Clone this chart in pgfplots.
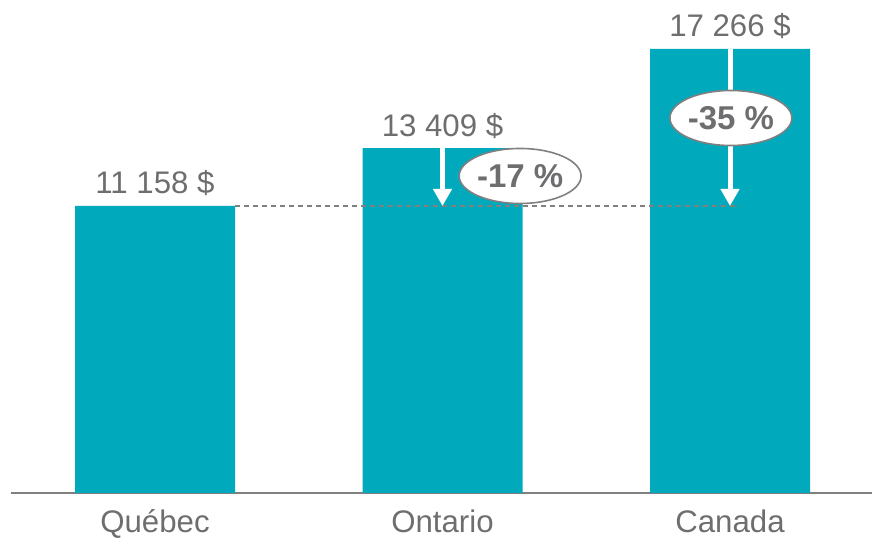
\documentclass[border=0pt]{standalone}
\usepackage{pgfplots}
\pgfplotsset{compat=1.18}
\usepackage{fontspec}
\setmainfont{Liberation Sans}
\usetikzlibrary{arrows.meta,shapes.geometric}
\definecolor{barteal}{RGB}{0,170,188}
\definecolor{txtgray}{RGB}{110,110,112}
\definecolor{axgray}{RGB}{128,128,128}
\begin{document}
\begin{tikzpicture}
\begin{axis}[
  scale only axis,
  width=430.5pt, height=246.5pt,
  xmin=-0.5009, xmax=2.4939,
  ymin=0, ymax=19167,
  axis x line=bottom,
  axis y line=none,
  axis line style={-, draw=axgray, line width=1pt},
  xtick={0,1,2},
  xticklabels={Québec,Ontario,Canada},
  major tick length=0pt,
  xticklabel style={anchor=base, yshift=-20pt, font=\fontsize{15.6}{18}\selectfont, text=txtgray},
  clip=false,
  ybar, bar width=80pt, bar shift=0pt,
]
\path (rel axis cs:-0.012776,-0.09331) rectangle (rel axis cs:1.00116,1);
\addplot[fill=barteal, draw=none] coordinates {(0,11158) (1,13409) (2,17266)};
% dashed reference line
\draw[axgray, line width=0.6pt, dash pattern=on 2.5pt off 2pt] (axis cs:0.278,11158) -- (axis cs:2.035,11158);
% arrows
\draw[white, line width=2.5pt, -{Triangle[width=9pt,length=8.5pt]}] (axis cs:1,13409) -- (axis cs:1,11158);
\draw[white, line width=2.5pt, -{Triangle[width=9pt,length=8.5pt]}] (axis cs:2,17266) -- (axis cs:2,11158);
% ellipses
\node[ellipse, draw=axgray, line width=0.8pt, fill=white, minimum width=60pt, minimum height=27.5pt, inner sep=0pt, text=txtgray, font=\bfseries\fontsize{16.5}{18}\selectfont] at (axis cs:1.27,12325) {-17 \%};
\node[ellipse, draw=axgray, line width=0.8pt, fill=white, minimum width=59pt, minimum height=27.5pt, inner sep=0pt, text=txtgray, font=\bfseries\fontsize{16.5}{18}\selectfont] at (axis cs:2.003,14579) {-35 \%};
% value labels
\node[anchor=base, text=txtgray, font=\fontsize{15.6}{18}\selectfont, yshift=6pt] at (axis cs:0,11158) {11 158 \$};
\node[anchor=base, text=txtgray, font=\fontsize{15.6}{18}\selectfont, yshift=6pt] at (axis cs:1,13409) {13 409 \$};
\node[anchor=base, text=txtgray, font=\fontsize{15.6}{18}\selectfont, yshift=6pt] at (axis cs:2,17266) {17 266 \$};
\end{axis}
\end{tikzpicture}
\end{document}
